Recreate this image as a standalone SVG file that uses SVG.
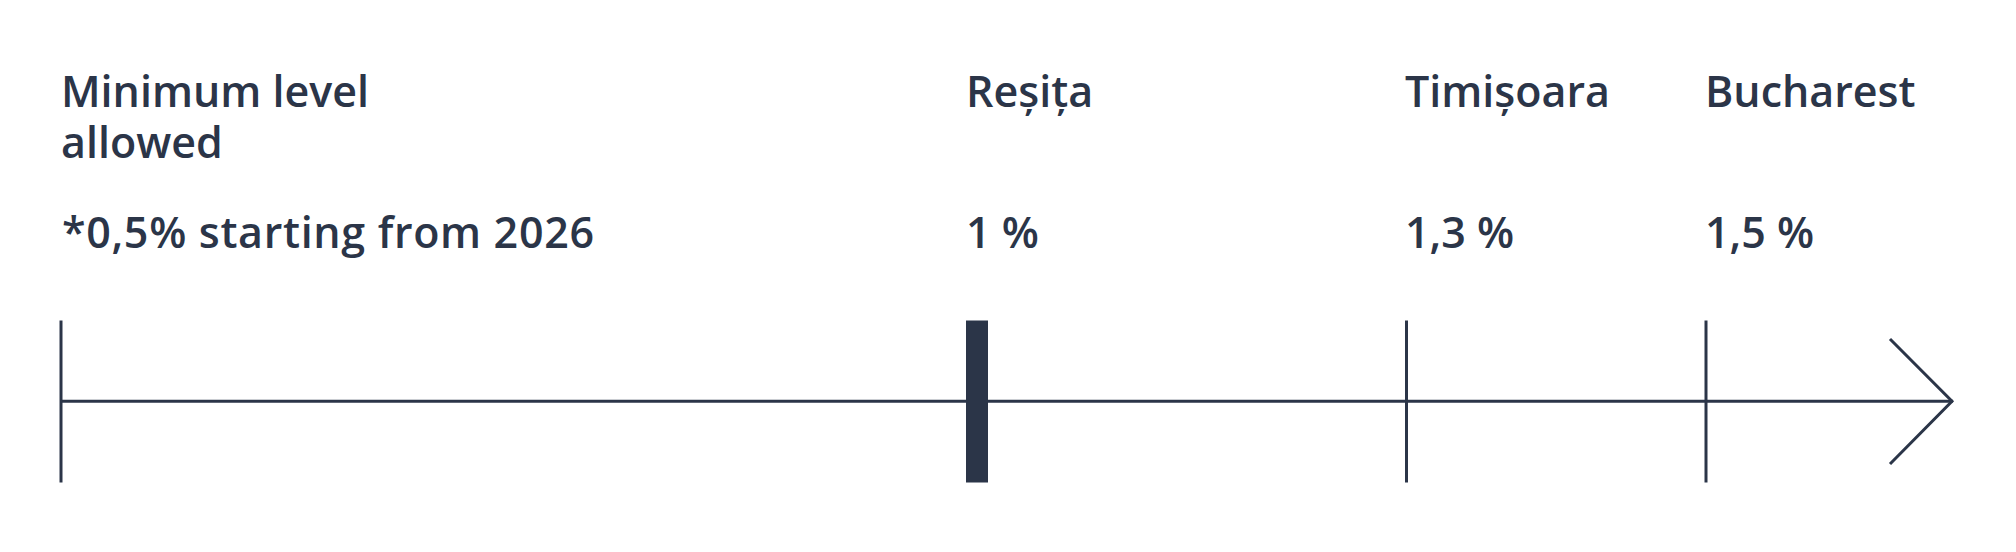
<svg xmlns="http://www.w3.org/2000/svg" width="2016" height="552" viewBox="0 0 2016 552">
<style>
.t{font-family:"Open Sans","Liberation Sans",sans-serif;font-weight:600;font-size:43px;fill:#2b3548}
.ln{stroke:#2b3548;stroke-width:3;fill:none}
</style>
<rect width="2016" height="552" fill="#ffffff"/>
<g id="connectors">
<line class="ln" x1="61" y1="401.3" x2="1953" y2="401.3"/>
<polyline class="ln" points="1890,339 1952,401.3 1890,464" stroke-linejoin="miter"/>
</g>
<g id="node-minimum">
<text class="t" x="61" y="107">Minimum level<tspan x="61" y="158">allowed</tspan></text>
<text class="t" x="62" y="248" textLength="532" lengthAdjust="spacing">*0,5% starting from 2026</text>
<line class="ln" x1="61" y1="320.5" x2="61" y2="482.5"/>
</g>
<g id="node-resita">
<text class="t" x="966" y="107">Reșița</text>
<text class="t" x="966" y="248">1 %</text>
<rect x="966" y="320.5" width="22" height="162" fill="#2b3548"/>
</g>
<g id="node-timisoara">
<text class="t" x="1405" y="107">Timișoara</text>
<text class="t" x="1405" y="248">1,3 %</text>
<line class="ln" x1="1406.5" y1="320.5" x2="1406.5" y2="482.5"/>
</g>
<g id="node-bucharest">
<text class="t" x="1705" y="107">Bucharest</text>
<text class="t" x="1705" y="248">1,5 %</text>
<line class="ln" x1="1706" y1="320.5" x2="1706" y2="482.5"/>
</g>
</svg>
